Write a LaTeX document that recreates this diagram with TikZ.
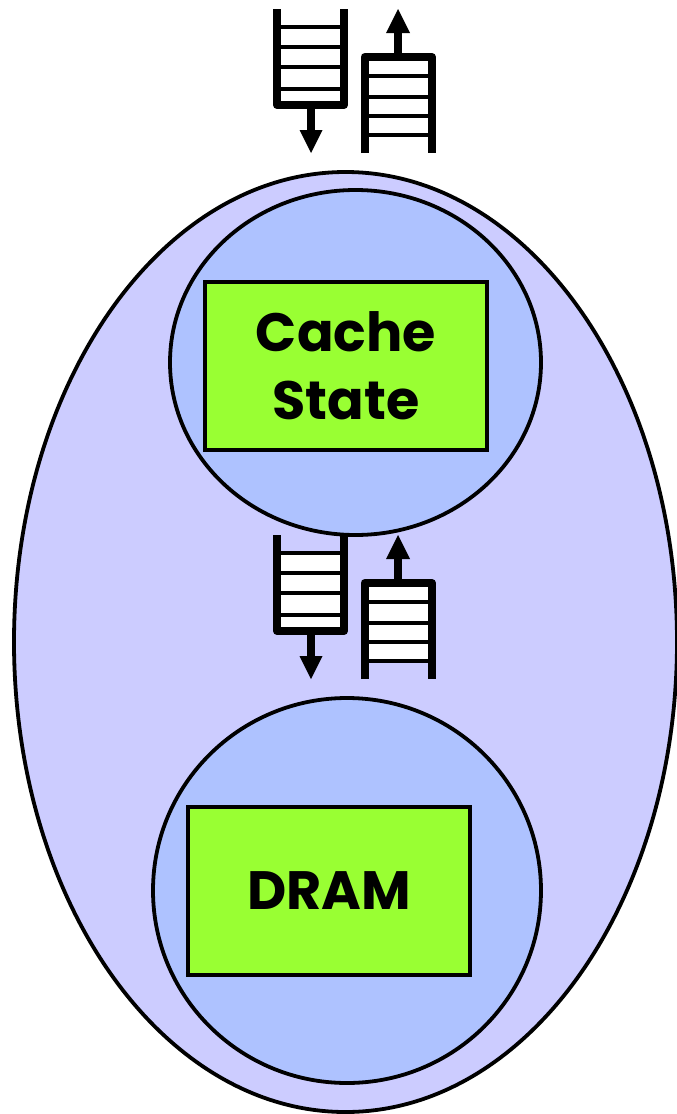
\documentclass[tikz,border=0pt]{standalone}
\usepackage{fontspec}
\setmainfont{Poppins}
\usetikzlibrary{shapes.geometric}
\definecolor{lav}{RGB}{204,204,255}
\definecolor{lblue}{RGB}{174,194,255}
\definecolor{lgreen}{RGB}{153,255,51}
\tikzset{
  outline/.style={draw=black, line width=3.8pt},
  oval/.style={ellipse, outline, inner sep=0pt},
  box/.style={rectangle, outline, fill=lgreen, inner sep=0pt, align=center,
    font=\fontsize{54}{68}\selectfont\bfseries},
  qframe/.style={line width=8pt, line join=round},
  rung/.style={line width=4pt},
  stem/.style={line width=7.5pt},
  inq/.pic={
    \fill[white] (0,18) rectangle (67,96);
    \foreach \r in {18,38,58,80} \draw[rung] (0,\r) -- (67,\r);
    \draw[qframe] (0,0) -- (0,96) -- (67,96) -- (67,0);
    \draw[stem] (34,96) -- (34,122);
    \fill (22.5,121) -- (45.5,121) -- (34,144) -- cycle;
  },
  outq/.pic={
    \fill[white] (0,0) rectangle (67.5,78);
    \foreach \r in {19,40,59,78} \draw[rung] (0,\r) -- (67.5,\r);
    \draw[qframe] (0,96) -- (0,0) -- (67.5,0) -- (67.5,96);
    \draw[stem] (33.5,0) -- (33.5,-25);
    \fill (21.5,-24) -- (45.5,-24) -- (33.5,-48) -- cycle;
  }
}
\begin{document}
\begin{tikzpicture}[x=1pt,y=-1pt]
\useasboundingbox (0,0) rectangle (677,1114);
\node[oval, fill=lav, minimum width=663pt, minimum height=940pt] (outer) at (345.5,642) {};
\node[oval, fill=lblue, minimum width=371pt, minimum height=345pt] (upper) at (355.5,362.5) {};
\node[oval, fill=lblue, minimum width=388pt, minimum height=385pt] (lower) at (347,890.5) {};
\node[box, minimum width=282pt, minimum height=168pt] (cache) at (346,366) {Cache\\State};
\node[box, minimum width=282pt, minimum height=168pt] (dram) at (329,891) {DRAM};
\pic (qin1) at (277,9) {inq};
\pic (qout1) at (364.5,57) {outq};
\pic (qin2) at (277,535) {inq};
\pic (qout2) at (364.5,583) {outq};
\end{tikzpicture}
\end{document}
